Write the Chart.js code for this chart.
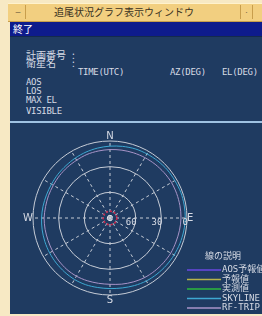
<!DOCTYPE html>
<html>
<head>
<meta charset="utf-8">
<script src="https://cdn.jsdelivr.net/npm/chart.js@4"></script>
<style>
body{margin:0;width:262px;height:316px;overflow:hidden;background:#f7e9c4;position:relative;font-family:"Noto Sans CJK JP",sans-serif}
#title{position:absolute;left:8px;top:3px;width:254px;height:17px;background:#f2cf80;border-top:1px solid #fff2cc;border-bottom:1px solid #c89e4c}
#title .t{position:absolute;left:0;top:1px;width:232px;text-align:center;font-size:10px;line-height:14px;color:#3b3222}
#title .b1{position:absolute;left:3px;top:1px;width:14px;height:14px;border-right:1px solid #c89e4c;color:#7a6a48;font-size:10px;line-height:13px;text-align:center}
#title .b2{position:absolute;left:232px;top:1px;width:11px;height:14px;border-left:1px solid #c89e4c;border-right:1px solid #c89e4c;color:#7a6a48;font-size:8px;line-height:13px;text-align:center}
#menu{position:absolute;left:10px;top:22px;width:252px;height:14px;background:#0e1b8c;color:#fff;font-size:10px;line-height:14px}
#menu span{margin-left:3px}
#panel{position:absolute;left:10px;top:36px;width:252px;height:277px;background:#1f3b61;border-top:1px solid #142a4c}
.tx{position:absolute;color:#d6dae4;font-size:10px;line-height:10px;white-space:pre}
.mono{font-family:"DejaVu Sans Mono",monospace;font-size:9px;letter-spacing:-0.3px}
#rule{position:absolute;left:0;top:84px;width:252px;height:2px;background:#9fc2e2}
canvas{position:absolute;left:0;top:86px}
</style>
</head>
<body>
<div id="title"><div class="b1">−</div><div class="t">追尾状況グラフ表示ウィンドウ</div><div class="b2">·</div></div>
<div id="menu"><span>終了</span></div>
<div id="panel">
  <div class="tx" style="left:16px;top:13px">計画番号</div><div class="tx" style="left:62px;top:13px">:</div>
  <div class="tx" style="left:16px;top:21px">衛星名</div><div class="tx" style="left:62px;top:21px">:</div>
  <div class="tx mono" style="left:68px;top:30px">TIME(UTC)</div>
  <div class="tx mono" style="left:160px;top:30px">AZ(DEG)</div>
  <div class="tx mono" style="left:212px;top:30px">EL(DEG)</div>
  <div class="tx mono" style="left:16px;top:40px">AOS</div>
  <div class="tx mono" style="left:16px;top:49px">LOS</div>
  <div class="tx mono" style="left:16px;top:58px">MAX EL</div>
  <div class="tx mono" style="left:16px;top:69px">VISIBLE</div>
  <div id="rule"></div>
  <canvas id="polar" width="252" height="190"></canvas>
</div>
<script>
// azimuth (deg, clockwise from north) of each sample
const azimuths = [0, 10, 20, 30, 40, 50, 60, 70, 80, 90, 100, 110, 120, 130, 140, 150, 160, 170,
  180, 190, 200, 210, 220, 230, 240, 250, 260, 270, 280, 290, 300, 310, 320, 330, 340, 350];

// elevation (deg) of each line at those azimuths
const skyline = [6, 5, 4, 3.5, 3, 2.5, 2.5, 2, 2, 2, 2.5, 3, 3.5, 4, 4.5, 5, 6, 7,
  7.5, 7.5, 7, 7, 7.5, 8, 8.5, 9, 9.5, 10, 10.5, 11, 11, 10.5, 10, 9, 8, 7];
const rfTrip = [10, 9.5, 9, 8.5, 8, 7.5, 7, 7, 7, 7, 7.5, 8, 8, 8.5, 9, 9.5, 10.5, 11.5,
  12.5, 12.5, 12, 11.5, 11.5, 12, 12.5, 13, 13, 13, 13.5, 13.5, 13.5, 13, 12.5, 12, 11, 10.5];
const aosForecast = [];
const forecast = [];
const measured = [];

const cardinals = {0: "N", 90: "E", 180: "S", 270: "W"};
const elevTicks = [0, 30, 60];
const limitEl = 82;
const zenithMarkEl = 87;

const seriesNames = ["AOS予報値", "予報値", "実測値", "SKYLINE", "RF-TRIP"];
const seriesColors = ["#6a48e2", "#b6b44a", "#2cba3c", "#3ea8d2", "#a894c8"];
const seriesData = [aosForecast, forecast, measured, skyline, rfTrip];

const gridColor = "#c6ccd6";

const polarExtras = {
  id: "polarExtras",
  afterDatasetsDraw(chart) {
    const r = chart.scales.r;
    const ctx = chart.ctx;
    ctx.save();
    // red dotted limit ring
    ctx.strokeStyle = "#c8264a";
    ctx.lineWidth = 1.6;
    ctx.setLineDash([2, 2]);
    ctx.beginPath();
    ctx.arc(r.xCenter, r.yCenter, r.getDistanceFromCenterForValue(limitEl), 0, Math.PI * 2);
    ctx.stroke();
    ctx.setLineDash([]);
    ctx.strokeStyle = "#eef0f6";
    ctx.lineWidth = 1;
    ctx.beginPath();
    ctx.arc(r.xCenter, r.yCenter, r.getDistanceFromCenterForValue(zenithMarkEl), 0.5, Math.PI * 2 - 0.2);
    ctx.stroke();

    // elevation labels along the east spoke
    ctx.font = '9px "DejaVu Sans Mono"';
    ctx.fillStyle = "#d6dae4";
    ctx.textAlign = "right";
    ctx.textBaseline = "middle";
    elevTicks.forEach(v => {
      ctx.fillText(String(v), r.xCenter + r.getDistanceFromCenterForValue(v) + 1, r.yCenter + 5);
    });

    // legend
    ctx.textAlign = "left";
    ctx.font = '9px "Noto Sans CJK JP"';
    ctx.fillText("線の説明", 195, 133);
    ctx.font = '9px "DejaVu Sans Mono", "Noto Sans CJK JP"';
    chart.data.datasets.forEach((ds, i) => {
      const y = 147 + i * 9.5;
      ctx.strokeStyle = ds.borderColor;
      ctx.lineWidth = 1.5;
      ctx.beginPath();
      ctx.moveTo(177, y);
      ctx.lineTo(211, y);
      ctx.stroke();
      ctx.fillText(ds.label, 212, y);
    });
    ctx.restore();
  }
};

new Chart(document.getElementById("polar"), {
  type: "radar",
  data: {
    labels: azimuths,
    datasets: seriesNames.map((name, i) => ({
      label: name,
      data: seriesData[i],
      borderColor: seriesColors[i],
      borderWidth: 1,
      pointRadius: 0,
      fill: false,
      tension: 0.3
    }))
  },
  options: {
    responsive: false,
    animation: false,
    layout: {padding: {left: 5, right: 59, top: 8, bottom: 8}},
    plugins: {legend: {display: false}, tooltip: {enabled: false}},
    scales: {
      r: {
        min: 0,
        max: 90,
        reverse: true,
        afterBuildTicks: s => { s.ticks = [90, 0, 30, 60].map(v => ({value: v})); },
        ticks: {display: false},
        grid: {circular: true, color: gridColor, lineWidth: 1},
        angleLines: {
          color: gridColor,
          lineWidth: c => (azimuths[c.index] % 30 === 0 ? 1 : 0),
          borderDash: [3, 3]
        },
        pointLabels: {
          display: true,
          padding: 0,
          color: "#d6dae4",
          font: {family: "DejaVu Sans", size: 10, lineHeight: 1},
          callback: az => cardinals[az] || ""
        }
      }
    }
  },
  plugins: [polarExtras]
});
</script>
</body>
</html>
